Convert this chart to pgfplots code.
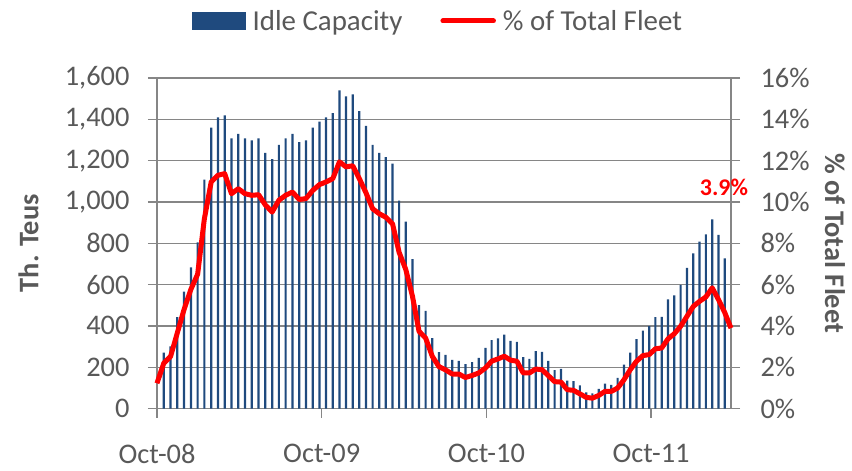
\documentclass[border=0pt]{standalone}
\usepackage{fontspec}
\setmainfont{Carlito}
\usepackage{pgfplots}
\pgfplotsset{compat=1.18}
\usepackage{pgfplotstable}

\definecolor{barblue}{RGB}{31,74,126}
\definecolor{gridgray}{RGB}{134,134,134}
\definecolor{txtgray}{RGB}{89,89,89}

% x = months since Oct-08, cap = idle capacity (th. TEU), pct = % of total fleet
\pgfplotstableread{
x     cap   pct
0.00  nan   1.22
0.49  271   2.19
0.99  301   2.52
1.48  442   3.66
1.97  566   4.79
2.47  683   5.77
2.96  804   6.50
3.45  1108  9.18
3.95  1360  10.97
4.44  1409  11.29
4.93  1419  11.37
5.43  1308  10.40
5.92  1329  10.64
6.41  1308  10.40
6.91  1298  10.32
7.40  1308  10.35
7.89  1237  9.86
8.39  1207  9.51
8.88  1276  10.08
9.37  1308  10.32
9.87  1329  10.48
10.36 1289  10.12
10.85 1298  10.16
11.35 1360  10.56
11.84 1389  10.84
12.32 1409  10.97
12.81 1430  11.13
13.29 1540  11.94
13.77 1511  11.70
14.26 1521  11.75
14.74 1440  11.13
15.22 1368  10.45
15.71 1276  9.67
16.19 1237  9.43
16.67 1217  9.26
17.16 1186  8.94
17.64 1006  7.56
18.12 905   6.74
18.61 723   5.44
19.09 500   3.74
19.57 473   3.41
20.06 341   2.52
20.54 273   2.03
21.02 260   1.87
21.51 236   1.67
21.99 231   1.67
22.47 215   1.50
22.96 225   1.60
23.44 245   1.72
23.93 294   1.96
24.38 331   2.29
24.84 339   2.40
25.30 358   2.53
25.76 327   2.34
26.22 323   2.29
26.68 249   1.72
27.13 240   1.72
27.59 278   1.91
28.05 274   1.88
28.51 231   1.59
28.97 186   1.30
29.43 192   1.28
29.89 135   0.91
30.35 133   0.88
30.81 112   0.71
31.27 78    0.54
31.72 73    0.50
32.18 95    0.63
32.64 121   0.83
33.10 114   0.83
33.56 148   0.99
34.02 212   1.39
34.48 271   1.88
34.94 336   2.29
35.40 377   2.56
35.86 399   2.61
36.31 442   2.89
36.77 444   2.93
37.23 528   3.37
37.69 548   3.62
38.15 598   3.98
38.61 681   4.46
39.07 751   4.94
39.53 808   5.19
39.99 843   5.40
40.45 916   5.84
40.91 840   5.27
41.36 727   4.65
41.82 nan   3.89
}\fleet

\pgfplotsset{
  base/.style={
    scale only axis, width=574bp, height=330.5bp,
    xmin=0, xmax=41.82, ymin=0,
    axis line style={gridgray, line width=1.3bp},
    major tick style={gridgray, line width=1.3bp},
    tick align=outside, major tick length=9bp,
    tick label style={font=\fontsize{28.5}{34}\selectfont, text=txtgray},
    label style={font=\bfseries\fontsize{28.5}{34}\selectfont, text=txtgray},
    /pgf/number format/assume math mode=true,
  }
}

\begin{document}
\begin{tikzpicture}
\begin{axis}[base,
  ymax=1600, ytick={0,200,...,1600},
  axis y line*=left, axis x line*=bottom,
  xtick={0,12,24,36}, xticklabels={Oct-08,Oct-09,Oct-10,Oct-11},
  ymajorgrids, grid style={gridgray, line width=1.3bp},
  /pgf/number format/1000 sep={,},
  ylabel={Th. Teus},
  ylabel style={at={(axis description cs:-0.224,0.5)}, anchor=center},
  xticklabel style={yshift=-23bp},
  yticklabel style={xshift=-15bp},
]
\addplot[ybar, bar width=2.2bp, fill=barblue, draw=none] table[x=x, y=cap]{\fleet};
\end{axis}

\begin{axis}[base,
  ymax=16, ytick={0,2,...,16},
  axis y line*=right, axis x line=none,
  yticklabel={\pgfmathprintnumber{\tick}\%},
  yticklabel style={xshift=17bp},
  ylabel={\% of Total Fleet},
  ylabel style={at={(axis description cs:1.181,0.5)}, anchor=center, rotate=180},
  clip=false,
  legend columns=2,
  legend style={at={(0.061,1.1725)}, anchor=west, draw=none, fill=none,
    inner sep=0pt, font=\fontsize{29}{34}\selectfont, text=txtgray,
    /tikz/every odd column/.append style={column sep=5bp},
    /tikz/every even column/.append style={column sep=36bp}},
]
\addlegendimage{legend image code/.code={\fill[barblue] (0bp,-8.5bp) rectangle (53bp,8.5bp);}}
\addlegendentry{Idle Capacity}
\addplot[red, line width=5bp, line join=round,
  legend image code/.code={\draw[red, line width=5bp, line cap=round] (2.5bp,0bp) -- (53bp,0bp);}]
  table[x=x, y=pct]{\fleet};
\addlegendentry{\% of Total Fleet}
\node[text=red, font=\bfseries\fontsize{24}{28}\selectfont] at (axis cs:41.31,10.70) {3.9\%};
\end{axis}
\path (-157bp,-62.5bp) rectangle (695bp,408.5bp);
\end{tikzpicture}
\end{document}
